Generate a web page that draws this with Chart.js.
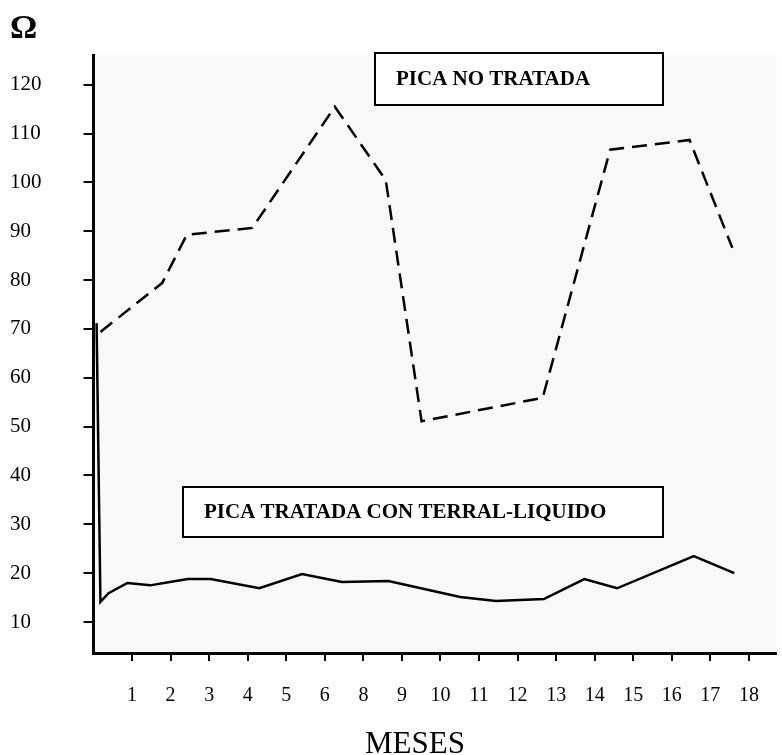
<!DOCTYPE html>
<html lang="es">
<head>
<meta charset="utf-8">
<title>Pica tratada / no tratada</title>
<script src="https://cdn.jsdelivr.net/npm/chart.js@4.4.0/dist/chart.umd.min.js"></script>
<style>
  html, body { margin: 0; padding: 0; background: #fff; }
  #caja { width: 782px; height: 755px; }
</style>
</head>
<body>
<div id="caja"><canvas id="grafico"></canvas></div>
<script>
// etiquetas del eje X (en el original no aparece el mes 7)
const meses = ["1", "2", "3", "4", "5", "6", "8", "9", "10", "11", "12", "13", "14", "15", "16", "17", "18"];
const ticksOhm = [10, 20, 30, 40, 50, 60, 70, 80, 90, 100, 110, 120];

// pica no tratada (discontinua): posicion sobre el eje X y ohmios
const noTratadaX = [0.18, 1.78, 2.42, 4.12, 6.26, 7.58, 8.51, 11.65, 13.40, 15.46, 16.57];
const noTratadaOhm = [69.4, 79.4, 89.3, 90.7, 115.5, 100.5, 51.1, 55.9, 106.7, 108.7, 86.6];

// pica tratada con terral-liquido (continua)
const tratadaX = [0.08, 0.18, 0.39, 0.88, 1.47, 1.98, 2.45, 3.04, 4.30, 5.41, 6.44, 7.65, 9.51, 10.44, 11.68, 12.73, 13.58, 15.57, 16.62];
const tratadaOhm = [71.2, 14.1, 15.9, 18.0, 17.5, 18.2, 18.8, 18.8, 16.9, 19.8, 18.2, 18.4, 15.1, 14.3, 14.7, 18.8, 16.9, 23.5, 20.0];

const serif = "'Liberation Serif', 'Times New Roman', serif";

// cuadros de texto dentro del grafico
const cajas = [
  { texto: "PICA NO TRATADA", x: 375, y: 53, w: 288, h: 52, pad: 21 },
  { texto: "PICA TRATADA CON TERRAL-LIQUIDO", x: 183, y: 487, w: 480, h: 50, pad: 21 }
];

const extras = {
  id: "extras",
  beforeDraw(chart) {
    const { ctx, chartArea: a } = chart;
    ctx.save();
    ctx.fillStyle = "#f8f8f8";
    ctx.fillRect(a.left, a.top, a.right - a.left, a.bottom - a.top);
    ctx.restore();
  },
  afterDraw(chart) {
    const ctx = chart.ctx;
    ctx.save();
    cajas.forEach(c => {
      ctx.fillStyle = "#fff";
      ctx.fillRect(c.x, c.y, c.w, c.h);
      ctx.strokeStyle = "#000";
      ctx.lineWidth = 2;
      ctx.strokeRect(c.x, c.y, c.w, c.h);
      ctx.fillStyle = "#000";
      ctx.font = "bold 21px " + serif;
      ctx.textBaseline = "middle";
      ctx.fillText(c.texto, c.x + c.pad, c.y + c.h / 2 + 1);
    });
    // titulo del eje X
    ctx.font = "31px " + serif;
    ctx.textAlign = "center";
    ctx.textBaseline = "alphabetic";
    ctx.fillText("MESES", 415, 753);
    ctx.restore();
  }
};

new Chart(document.getElementById("grafico"), {
  type: "line",
  data: {
    datasets: [
      {
        label: "PICA NO TRATADA",
        data: noTratadaX.map((x, i) => ({ x: x, y: noTratadaOhm[i] })),
        borderColor: "#000",
        borderWidth: 2.5,
        borderDash: [15, 8],
        pointRadius: 0,
        tension: 0
      },
      {
        label: "PICA TRATADA CON TERRAL-LIQUIDO",
        data: tratadaX.map((x, i) => ({ x: x, y: tratadaOhm[i] })),
        borderColor: "#000",
        borderWidth: 2.5,
        pointRadius: 0,
        tension: 0
      }
    ]
  },
  options: {
    responsive: true,
    maintainAspectRatio: false,
    animation: false,
    layout: { padding: { left: 10, right: 2, top: 0, bottom: 24 } },
    plugins: {
      legend: { display: false },
      tooltip: { enabled: false },
      title: {
        display: true,
        text: "Ω",
        align: "start",
        color: "#000",
        font: { family: serif, size: 34, weight: "bold", lineHeight: 1 },
        padding: { top: 12, bottom: 9 }
      }
    },
    scales: {
      x: {
        type: "linear",
        min: 0,
        max: 17.71,
        afterBuildTicks: s => { s.ticks = meses.map((m, i) => ({ value: i + 1 })); },
        ticks: {
          color: "#000",
          font: { family: serif, size: 20 },
          padding: 23,
          maxRotation: 0,
          autoSkip: false,
          callback: v => meses[v - 1]
        },
        grid: { drawOnChartArea: false, color: "#000", lineWidth: 2, tickLength: 8 },
        border: { color: "#000", width: 3 }
      },
      y: {
        min: 3.65,
        max: 126.1,
        afterBuildTicks: s => { s.ticks = ticksOhm.map(v => ({ value: v })); },
        ticks: {
          color: "#000",
          font: { family: serif, size: 21 },
          padding: 21,
          crossAlign: "far"
        },
        grid: { drawOnChartArea: false, color: "#000", lineWidth: 2, tickLength: 10 },
        border: { color: "#000", width: 3 }
      }
    }
  },
  plugins: [extras]
});
</script>
</body>
</html>
